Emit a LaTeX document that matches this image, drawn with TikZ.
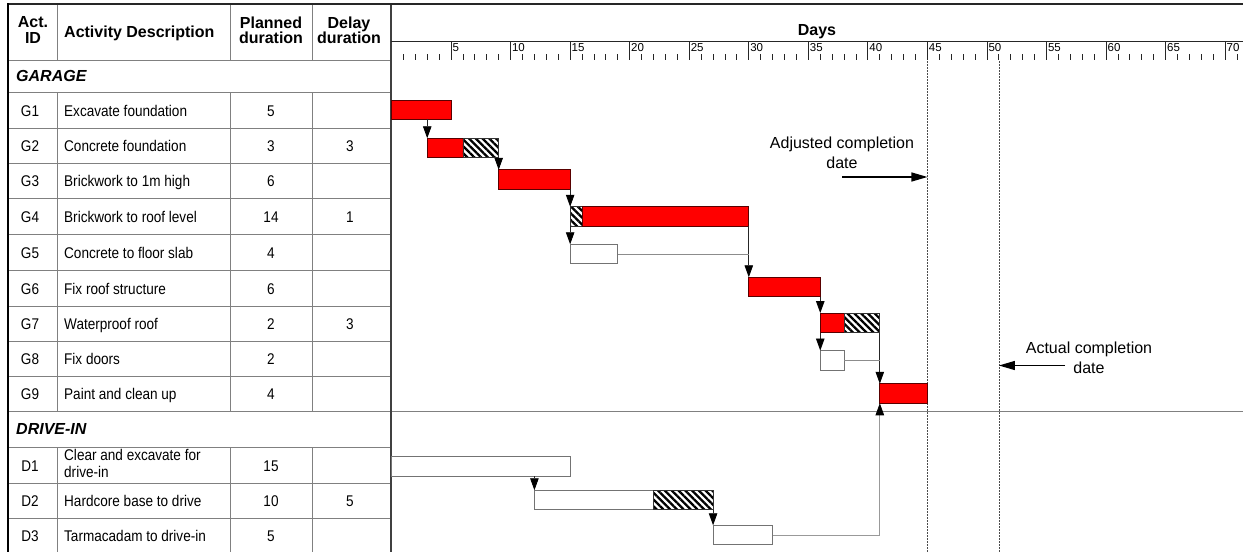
\documentclass[tikz,border=0pt]{standalone}
\usepackage{fontspec}
\setmainfont{Liberation Sans}
\newfontfamily\narrowf[FakeStretch=0.875]{Liberation Sans}
\usetikzlibrary{arrows.meta,patterns.meta}
\newcommand\dayx[1]{391.5+11.91*#1}
\begin{document}
\begin{tikzpicture}[x=1pt,y=-1pt,
  gridline/.style={draw=black!50, line width=0.9pt},
  frame/.style={draw=black!85, line width=2pt},
  tick/.style={draw=black!85, line width=0.9pt},
  ticklbl/.style={inner sep=0pt, font=\fontsize{11.5}{12}\selectfont},
  cell/.style={inner sep=0pt, text height=11pt, text depth=0pt, font=\narrowf\fontsize{15.5}{17}\selectfont},
  hdr/.style={inner sep=0pt, align=center, font=\bfseries\fontsize{16}{15.5}\selectfont},
  sect/.style={inner sep=0pt, anchor=west, text height=11.5pt, text depth=0pt, font=\bfseries\itshape\fontsize{16}{16}\selectfont},
  note/.style={inner sep=0pt, align=center, font=\fontsize{16}{19.5}\selectfont},
  bar/.style={inner sep=0pt, outer sep=0pt, minimum height=19.5pt, anchor=west, line width=0.7pt},
  redbar/.style={bar, draw=red!35!black, fill=red},
  hatchbar/.style={bar, draw=black!80, preaction={fill=white}, pattern={Lines[angle=-45,distance=4.8pt,line width=2.3pt]}, pattern color=black},
  idlebar/.style={bar, draw=black!55, fill=white},
  conn/.style={draw=black!85, line width=0.8pt, -{Triangle[width=8.5pt,length=12pt,color=black]}},
  link/.style={draw=black!45, line width=0.8pt},
  uplink/.style={draw=black!40, line width=0.8pt, -{Triangle[width=8.5pt,length=12pt,color=black]}},
  datearrow/.style={draw=black, line width=1.3pt, -{Triangle[width=9pt,length=16pt]}},
  dateline/.style={draw=black!70, line width=0.6pt, dash pattern=on 1.5pt off 1.5pt}
]
\useasboundingbox (0,0) rectangle (1243,552);
\fill[white] (0,0) rectangle (1243,552);

% ---- table grid ----
\foreach \yy in {60,92,128,163,198,234,270,306,341,376,447,483,518}
  \draw[gridline] (8,\yy) -- (391,\yy);
\draw[gridline] (8,411) -- (1243,411);
\foreach \xx in {57,230,312}{
  \draw[gridline] (\xx,4) -- (\xx,60);
  \draw[gridline] (\xx,92) -- (\xx,411);
  \draw[gridline] (\xx,447) -- (\xx,552);
}
\draw[draw=black!75, line width=1.2pt] (391,4) -- (391,552);
\draw[tick] (391,41) -- (1243,41);
\draw[frame] (7,4) -- (1243,4);
\draw[draw=black, line width=2.5pt] (8,3) -- (8,552);

% ---- day scale ----
\foreach \i in {1,...,71}{
  \pgfmathsetmacro\tx{391.5+11.91*\i}
  \pgfmathtruncatemacro\tm{mod(\i,5)}
  \ifnum\tm=0
    \draw[tick] (\tx,41) -- (\tx,59.5);
    \node[ticklbl, anchor=north west] (tl\i) at (\tx+1.3,43.5) {\i};
  \else
    \draw[tick] (\tx,54) -- (\tx,59.5);
  \fi
}
\node[inner sep=0pt, font=\bfseries\fontsize{16}{16}\selectfont] (days) at (817,31.5) {Days};

% ---- headers ----
\node[hdr] (hid) at (33,30) {Act.\\ID};
\node[hdr, anchor=west, text height=11.5pt, text depth=0pt] (hdesc) at (64,31.5) {Activity Description};
\node[hdr] (hpl) at (271,30.5) {Planned\\duration};
\node[hdr] (hdl) at (349,30.5) {Delay\\duration};
\node[sect] (garage) at (16,75.5) {GARAGE};
\node[sect] (drivein) at (16,429) {DRIVE-IN};

% ---- rows ----
\foreach \id/\desc/\pl/\dl/\yy in {
  G1/Excavate foundation/5//110.5,
  G2/Concrete foundation/3/3/146,
  G3/Brickwork to 1m high/6//181,
  G4/Brickwork to roof level/14/1/216.5,
  G5/Concrete to floor slab/4//252.5,
  G6/Fix roof structure/6//288.5,
  G7/Waterproof roof/2/3/324,
  G8/Fix doors/2//359,
  G9/Paint and clean up/4//394,
  D2/Hardcore base to drive/10/5/501,
  D3/Tarmacadam to drive-in/5//535.5}{
  \node[cell] (id\id) at (30,\yy) {\id};
  \node[cell, anchor=west] (ds\id) at (64,\yy) {\desc};
  \node[cell] (pl\id) at (271,\yy) {\pl};
  \node[cell] (dl\id) at (350,\yy) {\dl};
}
\node[cell] (idD1) at (30,465.5) {D1};
\node[inner sep=0pt, anchor=west, align=left, font=\narrowf\fontsize{15.5}{17}\selectfont] (dsD1) at (64,463.4) {Clear and excavate for\\drive-in};
\node[cell] (plD1) at (271,465.5) {15};

% ---- completion date lines ----
\coordinate (adjtop) at ({\dayx{45}},61);
\coordinate (adjbot) at ({\dayx{45}},552);
\coordinate (acttop) at ({\dayx{51}},61);
\coordinate (actbot) at ({\dayx{51}},552);
\draw[dateline] (adjtop) -- (adjbot);
\draw[dateline] (acttop) -- (actbot);

% ---- bars ----
\node[redbar, minimum width=11.91*5] (g1) at ({\dayx{0}},109.7) {};
\node[redbar, minimum width=11.91*3] (g2r) at ({\dayx{3}},148) {};
\node[hatchbar, minimum width=11.91*3] (g2h) at ({\dayx{6}},148) {};
\node[redbar, minimum width=11.91*6] (g3) at ({\dayx{9}},179.5) {};
\node[hatchbar, minimum width=11.91*1] (g4h) at ({\dayx{15}},216.5) {};
\node[redbar, minimum width=11.91*14] (g4r) at ({\dayx{16}},216.5) {};
\node[idlebar, minimum width=11.91*4] (g5) at ({\dayx{15}},254) {};
\node[redbar, minimum width=11.91*6] (g6) at ({\dayx{30}},287) {};
\node[redbar, minimum width=11.91*2] (g7r) at ({\dayx{36}},322.8) {};
\node[hatchbar, minimum width=11.91*3] (g7h) at ({\dayx{38}},322.8) {};
\node[idlebar, minimum width=11.91*2] (g8) at ({\dayx{36}},360.3) {};
\node[redbar, minimum width=11.91*4] (g9) at ({\dayx{41}},393.5) {};
\node[idlebar, minimum width=11.91*15] (d1) at ({\dayx{0}},466.5) {};
\node[idlebar, minimum width=11.91*10] (d2w) at ({\dayx{12}},500) {};
\node[hatchbar, minimum width=11.91*5] (d2h) at ({\dayx{22}},500) {};
\node[idlebar, minimum width=11.91*5] (d3) at ({\dayx{27}},535) {};

% ---- connectors ----
\draw[conn] (g1.south -| g2r.west) -- (g2r.north west);
\draw[conn] (g2h.south east) -- (g3.north west);
\draw[conn] (g3.south east) -- (g4h.north west);
\draw[conn] (g4h.south west) -- (g5.north west);
\draw[conn] (g4r.south east) -- (g6.north west);
\draw[link] (g5.east) -- (g5.east -| g6.west);
\draw[conn] (g6.south east) -- (g7r.north west);
\draw[conn] (g7r.south west) -- (g8.north west);
\draw[conn] (g7h.south east) -- (g9.north west);
\draw[link] (g8.east) -- (g8.east -| g9.west);
\draw[conn] (d1.south -| d2w.west) -- (d2w.north west);
\draw[conn] (d2h.south east) -- (d3.north west);
\draw[uplink] (d3.east) -| (g9.south west);

% ---- annotations ----
\node[note] (adjtxt) at (842,153) {Adjusted completion\\date};
\coordinate (adjfrom) at (842,177);
\draw[datearrow] (adjfrom) -- (adjfrom -| adjtop);
\node[note] (acttxt) at (1089,358) {Actual completion\\date};
\coordinate (actfrom) at (1065,365.5);
\draw[datearrow] (actfrom) -- (actfrom -| acttop);
\end{tikzpicture}
\end{document}
